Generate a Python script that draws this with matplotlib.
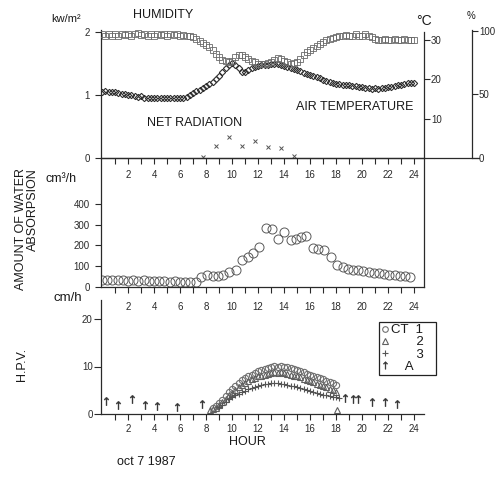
import numpy as np
import matplotlib
matplotlib.use("Agg")
import matplotlib.pyplot as plt

plt.rcParams['font.family'] = ['Liberation Sans', 'DejaVu Sans']

# ---------------- data ----------------
hours_q = np.arange(0, 24.01, 0.25)

humidity_pct = [
    97, 96, 97.5, 96, 97, 95.5, 97, 96.5, 97.5, 96, 97, 98, 96.5, 97, 96, 97.5,
    96, 97, 96.5, 97, 96, 97.5, 96.5, 97, 96, 96.5, 96, 95.5, 95,
    93.5, 92, 90.5, 89, 87, 84.5, 82, 79, 77, 76, 75.5, 76.5, 79, 81, 80.5, 79.5,
    77.5, 76, 75, 74, 73.5, 73.5, 74.5, 75.5, 77, 78.5, 78, 76.5, 75, 74, 74.5,
    75.5, 77.5, 80.5, 83, 85, 86.5, 88, 89.5, 91, 92.5, 93.5, 94.5, 95, 96, 95.5,
    96.5, 95.5, 96, 97, 95.5, 96, 97, 96, 95, 93.5, 93, 93, 93.5, 93, 93, 93.5,
    93, 93, 93.5, 93, 93, 93]

air_temp_c = [
    16.9, 17.0, 16.9, 16.8, 16.8, 16.6, 16.4, 16.2, 16.0, 16.1, 15.8, 15.6, 15.7,
    15.4, 15.3, 15.4, 15.3, 15.3, 15.2, 15.3, 15.3, 15.2, 15.3, 15.3, 15.3, 15.4,
    15.6, 16.1, 16.6, 17.0, 17.4, 17.9, 18.3, 18.8, 19.3, 20.0, 20.8, 21.8, 22.8,
    23.6, 24.2, 23.6, 22.8, 22.0, 21.9, 22.3, 22.9, 23.2, 23.5, 23.7, 23.8, 23.8,
    23.9, 24.0, 23.9, 23.7, 23.5, 23.3, 23.0, 22.7, 22.4, 22.1, 21.7, 21.4, 21.1,
    20.8, 20.6, 20.3, 19.9, 19.6, 19.3, 19.1, 18.9, 18.8, 18.7, 18.6, 18.6, 18.4,
    18.3, 18.2, 18.0, 17.9, 17.8, 17.7, 17.8, 17.7, 17.8, 17.9, 18.0, 18.2, 18.4,
    18.6, 18.7, 18.9, 19.0, 19.1, 19.1]

rad_hours = [7.8, 8.8, 9.8, 10.8, 11.8, 12.8, 13.8, 14.8]
net_radiation = [0.02, 0.19, 0.33, 0.19, 0.27, 0.17, 0.16, 0.03]

abs_hours = [0, 0.4, 0.8, 1.2, 1.6, 2.0, 2.4, 2.8, 3.2, 3.6, 4.0, 4.4, 4.8, 5.2,
             5.6, 6.0, 6.4, 6.8, 7.2, 7.6, 8.1, 8.5, 8.9, 9.3, 9.8, 10.3, 10.8,
             11.2, 11.6, 12.1, 12.6, 13.1, 13.5, 14.0, 14.5, 14.9, 15.3, 15.7,
             16.2, 16.6, 17.1, 17.6, 18.1, 18.5, 18.9, 19.3, 19.7, 20.1, 20.5,
             20.9, 21.3, 21.7, 22.1, 22.5, 22.9, 23.3, 23.7]
absorption = [35, 33, 36, 32, 34, 31, 33, 30, 32, 28, 30, 27, 28, 25, 27, 24, 25,
              22, 24, 48, 57, 52, 54, 58, 70, 82, 130, 146, 163, 190, 285, 279,
              230, 266, 226, 232, 240, 246, 188, 183, 178, 146, 106, 96, 88, 84,
              82, 76, 72, 68, 66, 64, 60, 58, 55, 52, 50]

ct_hours = np.arange(8.5, 18.01, 0.25)
ct1 = [1.2, 1.6, 2.3, 3.0, 3.8, 4.6, 5.3, 6.0, 6.6, 7.1, 7.6, 8.0, 8.3, 8.7, 9.0,
       9.2, 9.5, 9.7, 9.9, 10.1, 10.0, 10.1, 9.9, 9.8, 9.6, 9.5, 9.2, 9.0, 8.8,
       8.5, 8.3, 8.0, 7.8, 7.5, 7.3, 7.0, 6.8, 6.5, 6.2]
ct2 = [1.0, 1.3, 1.8, 2.5, 3.2, 3.9, 4.5, 5.1, 5.6, 6.1, 6.5, 6.9, 7.3, 7.6, 7.9,
       8.1, 8.3, 8.5, 8.6, 8.8, 8.7, 8.8, 8.6, 8.5, 8.3, 8.1, 7.9, 7.7, 7.4, 7.2,
       6.9, 6.7, 6.4, 6.1, 5.9, 5.6, 5.3, 5.0, 4.7]
ct2_extra_hours = [8.3, 18.1]
ct2_extra = [0.9, 0.8]
ct3_hours = np.arange(9.0, 18.26, 0.25)
ct3 = [1.5, 2.0, 2.6, 3.1, 3.5, 3.9, 4.2, 4.6, 4.9, 5.2, 5.4, 5.7, 5.9, 6.1, 6.3,
       6.4, 6.5, 6.6, 6.5, 6.4, 6.3, 6.2, 6.0, 5.9, 5.7, 5.5, 5.3, 5.1, 4.9, 4.7,
       4.5, 4.3, 4.1, 3.9, 3.8, 3.6, 3.5, 3.4]
a_hours = [0.3, 1.2, 2.3, 3.3, 4.2, 5.8, 7.7, 18.7, 19.3, 19.7, 20.8, 21.8, 22.7]
a_vals = [2.7, 1.9, 3.2, 1.9, 1.7, 1.5, 2.1, 3.4, 3.2, 3.2, 2.5, 2.5, 2.1]

legend_labels = ['CT  1   ', '       2   ', '       3   ', '    A      ']

x_ticks = list(range(1, 25))
x_labels = [str(h) if h % 2 == 0 else '' for h in x_ticks]

# ---------------- layout ----------------
W, H = 498, 479
fig = plt.figure(figsize=(W / 100, H / 100), dpi=100)


def rect(l, t, r, b):
    return [l / W, 1 - b / H, (r - l) / W, (b - t) / H]


def ftext(x, y, s, **kw):
    kw.setdefault('ha', 'center')
    kw.setdefault('va', 'center')
    kw.setdefault('color', '#1a1a1a')
    fig.text(x / W, 1 - y / H, s, **kw)


XLIM = (-1 / 13, 322 / 13)
SC = '#2a2a2a'
MK = '#555555'


def style_x(ax, pad):
    ax.set_xlim(*XLIM)
    ax.set_xticks(x_ticks)
    ax.set_xticklabels(x_labels)
    ax.tick_params(axis='x', direction='out', length=4, width=0.8, pad=pad,
                   labelsize=7, colors=SC)


# top panel
ax1 = fig.add_axes(rect(101, 30, 424, 158))
axT = ax1.twinx()
axH = ax1.twinx()
for a in (ax1, axT, axH):
    for s in a.spines.values():
        s.set_visible(False)
    a.patch.set_visible(False)
ax1.spines['left'].set_visible(True)
ax1.spines['bottom'].set_visible(True)
axT.spines['right'].set_visible(True)
axH.spines['right'].set_visible(True)
axH.spines['right'].set_position(('outward', 34.5))
for s in (ax1.spines['left'], ax1.spines['bottom'], axT.spines['right'],
          axH.spines['right']):
    s.set_color(SC)
    s.set_linewidth(0.9)

ax1.set_ylim(0, 2.03)
axT.set_ylim(0, 32.6)
axH.set_ylim(0, 100.5)
ax1.set_yticks([0, 1, 2])
axT.set_yticks([10, 20, 30])
axH.set_yticks([0, 50, 100])
axT.spines['right'].set_bounds(0, 32.2)
style_x(ax1, 5)
ax1.tick_params(axis='y', direction='out', length=4, width=0.8, pad=4,
                labelsize=7, colors=SC)
axT.tick_params(axis='y', direction='out', length=4, width=0.8, pad=1,
                labelsize=7, colors=SC)
axH.tick_params(axis='y', direction='out', length=4, width=0.8, pad=1,
                labelsize=7, colors=SC)
ax1.axhline(0, 0, 1.17, clip_on=False, color=SC, lw=0.9)

axH.plot(hours_q, humidity_pct, ls='none', marker='s', ms=4.2, mfc='none',
         mec='#6a6a6a', mew=0.6)
axT.plot(hours_q, air_temp_c, ls='none', marker='D', ms=3.2, mfc='none',
         mec='#2e2e2e', mew=0.8)
ax1.plot(rad_hours, net_radiation, ls='none', marker='x', ms=3, mec=MK, mew=0.7)

# middle panel
ax2 = fig.add_axes(rect(101, 158, 424, 287))
ax2.patch.set_visible(False)
ax2.spines['top'].set_visible(False)
for k in ('left', 'right', 'bottom'):
    ax2.spines[k].set_color(SC)
    ax2.spines[k].set_linewidth(0.9)
ax2.set_ylim(0, 620)
ax2.set_yticks([0, 100, 200, 300, 400])
style_x(ax2, 7)
ax2.tick_params(axis='y', direction='out', length=4, width=0.8, pad=4,
                labelsize=7, colors=SC)
ax2.plot(abs_hours, absorption, ls='none', marker='o', ms=6.5, mfc='none',
         mec='#5a5a5a', mew=0.7)

# bottom panel
ax3 = fig.add_axes(rect(101, 300, 424, 414))
ax3.patch.set_visible(False)
ax3.spines['top'].set_visible(False)
ax3.spines['right'].set_visible(False)
for k in ('left', 'bottom'):
    ax3.spines[k].set_color(SC)
    ax3.spines[k].set_linewidth(0.9)
ax3.set_ylim(0, 24)
ax3.set_yticks([0, 10, 20])
style_x(ax3, 3)
ax3.tick_params(axis='y', direction='out', length=5, width=0.8, pad=1,
                labelsize=7, colors=SC)
h1, = ax3.plot(ct_hours, ct1, ls='none', marker='o', ms=4.5, mfc='none',
               mec='#707070', mew=0.8, label=legend_labels[0])
h2, = ax3.plot(list(ct_hours) + ct2_extra_hours, ct2 + ct2_extra, ls='none',
               marker='^', ms=4.5, mfc='none', mec='#606060', mew=0.8,
               label=legend_labels[1])
h3, = ax3.plot(ct3_hours, ct3, ls='none', marker='+', ms=4.5, mec='#555555',
               mew=0.8, label=legend_labels[2])
h4, = ax3.plot(a_hours, a_vals, ls='none', marker=r'$\uparrow$', ms=6,
               mec='#333333', mfc='#333333', mew=0.3, label=legend_labels[3])
leg = ax3.legend(handles=[h1, h2, h3, h4], loc='upper left',
                 bbox_to_anchor=((379 - 101) / 323, (414 - 322) / 114),
                 fontsize=9.5, frameon=True, fancybox=False, framealpha=1,
                 edgecolor='#222222', borderpad=0.15, labelspacing=0.0,
                 handlelength=0.6, handletextpad=0.15, borderaxespad=0,
                 markerscale=0.9)
leg.get_frame().set_linewidth(0.9)
for t in leg.get_texts():
    t.set_color('#1a1a1a')

# ---------------- texts ----------------
ftext(163, 15, 'HUMIDITY', fontsize=9)
ftext(195, 123, 'NET RADIATION', fontsize=9)
ftext(355, 107, 'AIR TEMPERATURE', fontsize=9)
ftext(66, 19, 'kw/m²', fontsize=8)
ftext(424, 21, '°C', fontsize=10)
ftext(471, 16, '%', fontsize=7)
ftext(61, 179, 'cm³/h', fontsize=9)
ftext(68, 298, 'cm/h', fontsize=9.5)
ftext(247, 442, 'HOUR', fontsize=9)
ftext(146, 462, 'oct 7 1987', fontsize=9)
ftext(27, 229, 'AMOUNT OF WATER\nABSORPSION', fontsize=9, rotation=90,
      multialignment='right', linespacing=1.05)
ftext(22, 364, 'H.P.V.', fontsize=9, rotation=90)

fig.savefig('out.png', dpi=100)
